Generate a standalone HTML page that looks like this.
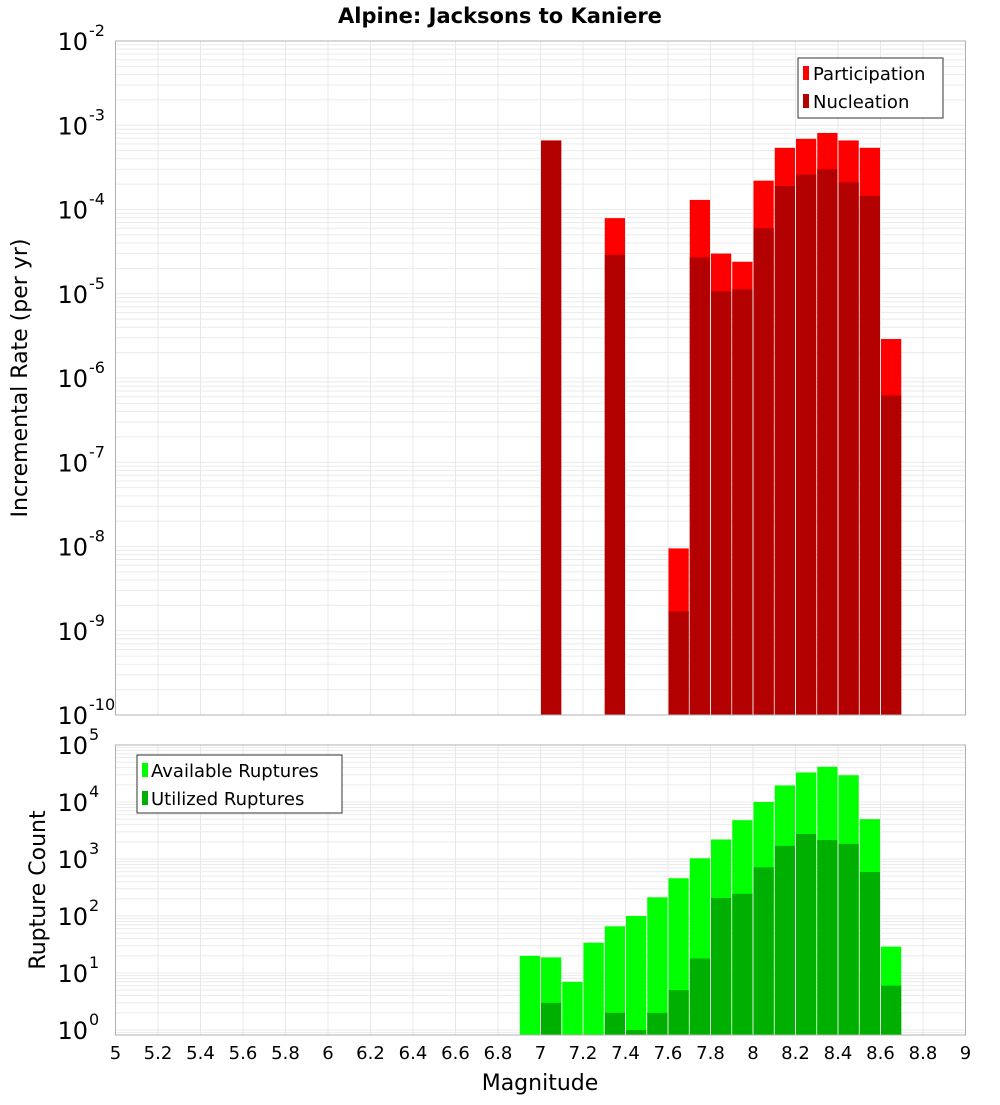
<!DOCTYPE html>
<html><head><meta charset="utf-8"><style>
body{margin:0;background:#fff;}
svg text{font-family:"DejaVu Sans","Liberation Sans",sans-serif;}
</style></head><body>
<svg id="chart" width="1000" height="1100" xmlns="http://www.w3.org/2000/svg">
<rect width="1000" height="1100" fill="#fff"/>
<text x="500" y="23" text-anchor="middle" font-size="21" font-weight="bold">Alpine: Jacksons to Kaniere</text>
<g id="top"></g>
<g id="bot"></g>
<text transform="translate(27,378) rotate(-90)" text-anchor="middle" font-size="22">Incremental Rate (per yr)</text>
<text transform="translate(45,890) rotate(-90)" text-anchor="middle" font-size="22">Rupture Count</text>
<text x="540" y="1090" text-anchor="middle" font-size="22">Magnitude</text>
<g>
<rect x="798" y="58" width="145" height="60" fill="#fff" stroke="#333"/>
<rect x="803" y="66" width="6" height="14" fill="#ff0000"/>
<text x="813" y="80" font-size="18">Participation</text>
<rect x="803" y="94" width="6" height="14" fill="#b30000"/>
<text x="813" y="108" font-size="18">Nucleation</text>
</g>
<g>
<rect x="137" y="755" width="205" height="58" fill="#fff" stroke="#333"/>
<rect x="142" y="763" width="6" height="14" fill="#00ff00"/>
<text x="151" y="777" font-size="18">Available Ruptures</text>
<rect x="142" y="791" width="6" height="14" fill="#00b000"/>
<text x="151" y="805" font-size="18">Utilized Ruptures</text>
</g>
</svg>
<script>
const binCenters=[6.95,7.05,7.15,7.25,7.35,7.45,7.55,7.65,7.75,7.85,7.95,8.05,8.15,8.25,8.35,8.45,8.55,8.65];
const participation=[0,6.6e-4,0,0,7.9e-5,0,0,9.5e-9,1.3e-4,3.0e-5,2.4e-5,2.2e-4,5.4e-4,6.9e-4,8.1e-4,6.6e-4,5.4e-4,2.9e-6];
const nucleation=[0,6.6e-4,0,0,2.9e-5,0,0,1.7e-9,2.7e-5,1.07e-5,1.13e-5,6.0e-5,1.9e-4,2.6e-4,3.0e-4,2.1e-4,1.45e-4,6.2e-7];
const available=[20,18.8,7,34,66,100,213,460,1030,2200,4800,10000,19500,33000,41500,29500,5000,29];
const utilized=[0,3,0,0,2,1,2,5,18,207,245,715,1700,2750,2150,1850,590,6];
const xTicks=["5","5.2","5.4","5.6","5.8","6","6.2","6.4","6.6","6.8","7","7.2","7.4","7.6","7.8","8","8.2","8.4","8.6","8.8","9"];
const topDecades=[-10,-9,-8,-7,-6,-5,-4,-3,-2];
const botDecades=[0,1,2,3,4,5];
const NS="http://www.w3.org/2000/svg";
const L=115.5,R=965.5;
const xs=m=>L+(m-5)/4*(R-L);
function mk(p,tag,at){const e=document.createElementNS(NS,tag);for(const k in at)e.setAttribute(k,at[k]);p.appendChild(e);return e;}
function panel(g,top,bottom,yFn,dmin,dmax,decs,s1,c1,s2,c2,n1,n2){
  mk(g,'rect',{x:L,y:top,width:R-L,height:bottom-top,fill:'#fff'});
  for(let d=dmin-1;d<=dmax;d++)for(let k=1;k<10;k++){const y=yFn(k*Math.pow(10,d));if(y<top-0.1||y>bottom+0.1)continue;
    const l=mk(g,'line',{x1:L,x2:R,y1:y,y2:y,stroke:'#ebebeb','stroke-width':1});}
  for(let i=1;i<xTicks.length-1;i++){const x=xs(parseFloat(xTicks[i]));const l=mk(g,'line',{x1:x,x2:x,y1:top,y2:bottom,stroke:'#e8e8e8'});}
  const w=(R-L)/40;
  binCenters.forEach((c,i)=>{
    [[s1[i],c1,n1],[s2[i],c2,n2]].forEach(([v,col,nm])=>{if(!(v>0))return;
      const y=Math.max(top,yFn(v));const r=mk(g,'rect',{x:xs(c)-w/2+0.5,y:y,width:w-1,height:bottom-y,fill:col});
      });
  });
  mk(g,'rect',{x:L,y:top,width:R-L,height:bottom-top,fill:'none',stroke:'#b0b0b0'});
  decs.forEach(d=>{const y=yFn(Math.pow(10,d));const t=mk(g,'text',{x:88,y:y+9,'text-anchor':'end','font-size':24});t.textContent='10';
    
    const e=mk(g,'text',{x:89,y:y-5,'font-size':16});e.textContent=String(d);});
}
const tTop=41,tBot=715;
const yTop=v=>tTop+(-2-Math.log10(v))/8*(tBot-tTop);
panel(document.getElementById('top'),tTop,tBot,yTop,-10,-2,topDecades,participation,'#ff0000',nucleation,'#b30000','participation','nucleation');
const bTop=745,bBot=1035,b0=1030;
const yBot=v=>b0-Math.log10(v)/5*(b0-bTop);
panel(document.getElementById('bot'),bTop,bBot,yBot,0,5,botDecades,available,'#00ff00',utilized,'#00b000','available','utilized');
const gb=document.getElementById('bot');
xTicks.forEach(t=>{const e=mk(gb,'text',{x:xs(parseFloat(t)),y:1059,'text-anchor':'middle','font-size':18});e.textContent=t;
  });
</script>
</body></html>
